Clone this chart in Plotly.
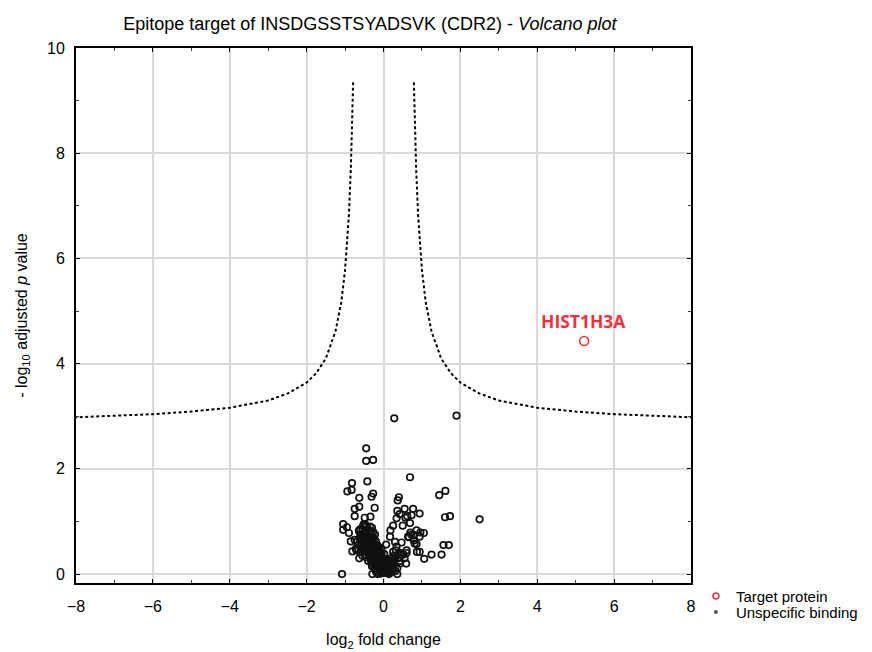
import plotly.graph_objects as go

# Unspecific binding proteins (log2 FC, -log10 adj p)
fc_x = [0.28, 1.9, -0.45, -0.45, -0.27, 0.69, -0.82, -0.42, -0.94, -0.83, -0.27, -0.31,
        -0.63, 0.40, 0.37, 1.45, 1.61, -0.63, -0.75, -0.23, 0.55, 0.77, 0.36, 0.94,
        0.42, 0.62, 0.73, -0.75, -0.49, -0.34, 0.34, 0.57, 1.60, 1.73, 2.50, -1.05,
        -0.95, -1.05, 0.25, 0.18, 0.50, 0.69, 0.86, 0.96, 1.05, 0.70, 0.79, 0.64,
        0.94, -0.75, -0.60, -0.47, -0.81, -0.63, -1.08, -0.29, 0.36, 0.36, 0.59, 0.43,
        1.06, 1.25, 1.51, 0.87, 0.94, 1.56, 1.70, 0.45, 0.60, 0.52, 0.40, 0.30,
        0.17, 0.86, 0.79,
        -0.55, -0.50, -0.45, -0.40, -0.35, -0.30, -0.60, -0.52, -0.42, -0.33, -0.27, -0.22,
        -0.58, -0.50, -0.40, -0.35, -0.28, -0.20, -0.66, -0.55, -0.46, -0.38, -0.30, -0.24,
        -0.16, -0.70, -0.60, -0.50, -0.42, -0.34, -0.26, -0.18, -0.12, -0.55, -0.45, -0.38,
        -0.30, -0.22, -0.15, -0.08, -0.40, -0.32, -0.25, -0.18, -0.10, -0.04, -0.30, -0.22,
        -0.15, -0.08, -0.02, -0.20, -0.12, -0.05, 0.02, -0.15, -0.08, 0.00, 0.06, -0.03,
        0.05, 0.10, 0.12, 0.18, 0.10, 0.15, 0.22, 0.20, 0.28, 0.25, 0.32, 0.30,
        0.08, -0.05, -0.10, -0.45, -0.62, 0.00, 0.05, -0.02, 0.14, 0.20, 0.25, 0.38,
        0.42, 0.48, 0.60, 0.55, -0.68, -0.36, -0.14, -0.06, 0.03, 0.09, -0.24, -0.48,
        -0.57, -0.33, -0.19, -0.11, 0.12, 0.26, 0.34, 0.47, 0.66, 0.72, 0.81, -0.85,
        -0.90, -0.72, -0.64, -0.53, -0.38, 0.16, 0.07, -0.01, -0.10, -0.17, 0.22, 0.31,
        -0.21, -0.13, -0.06, 0.01, -0.27, -0.19, -0.09, -0.32, -0.23, -0.14, -0.37, -0.28,
        -0.20, -0.44, -0.35, -0.26, -0.49, -0.41, -0.31, -0.53, -0.45, -0.36, -0.25, -0.16,
        -0.07, 0.03, 0.11, 0.19, -0.11, -0.03, 0.07, 0.13, -0.17, -0.09, 0.02, -0.24,
        -0.15, -0.05, -0.31, -0.39, -0.47, -0.56, -0.61, -0.51]
fc_y = [2.96, 3.01, 2.39, 2.15, 2.17, 1.84, 1.73, 1.76, 1.57, 1.60, 1.53, 1.47,
        1.45, 1.46, 1.40, 1.50, 1.58, 1.28, 1.24, 1.26, 1.24, 1.24, 1.20, 1.15,
        1.14, 1.10, 1.12, 1.10, 1.07, 1.09, 1.06, 1.07, 1.08, 1.10, 1.04, 0.95,
        0.89, 0.84, 0.92, 0.83, 0.92, 0.97, 0.83, 0.79, 0.78, 0.79, 0.74, 0.71,
        0.71, 0.65, 0.68, 0.70, 0.43, 0.30, 0.00, 0.00, 0.00, 0.11, 0.20, 0.20,
        0.29, 0.37, 0.37, 0.42, 0.42, 0.55, 0.55, 0.40, 0.40, 0.37, 0.37, 0.61,
        0.71, 0.57, 0.64,
        0.85, 0.80, 0.90, 0.85, 0.90, 0.88, 0.75, 0.72, 0.75, 0.78, 0.80, 0.75,
        0.62, 0.60, 0.63, 0.66, 0.65, 0.62, 0.55, 0.50, 0.55, 0.52, 0.55, 0.52,
        0.55, 0.45, 0.42, 0.44, 0.42, 0.45, 0.40, 0.43, 0.45, 0.35, 0.32, 0.35,
        0.30, 0.33, 0.30, 0.35, 0.25, 0.22, 0.20, 0.22, 0.20, 0.25, 0.15, 0.12,
        0.14, 0.12, 0.15, 0.06, 0.05, 0.07, 0.08, 0.00, 0.01, 0.02, 0.03, 0.10,
        0.12, 0.10, 0.05, 0.15, 0.20, 0.25, 0.22, 0.30, 0.35, 0.42, 0.45, 0.28,
        0.28, 0.40, 0.50, 0.65, 0.68, 0.30, 0.18, 0.05, 0.00, 0.08, 0.12, 0.30,
        0.25, 0.38, 0.45, 0.30, 0.62, 0.58, 0.48, 0.27, 0.22, 0.04, 0.47, 0.95,
        0.58, 0.70, 0.38, 0.09, 0.16, 0.08, 0.52, 0.60, 0.70, 0.75, 0.58, 0.62,
        0.78, 0.48, 0.82, 0.92, 0.38, 0.17, 0.56, 0.26, 0.14, 0.02, 0.18, 0.06,
        0.10, 0.09, 0.04, 0.05, 0.18, 0.17, 0.18, 0.27, 0.28, 0.26, 0.40, 0.37,
        0.38, 0.50, 0.48, 0.47, 0.60, 0.58, 0.70, 0.70, 0.82, 0.80, 0.68, 0.33,
        0.29, 0.22, 0.02, 0.03, 0.23, 0.15, 0.15, 0.21, 0.45, 0.40, 0.38, 0.57,
        0.52, 0.48, 0.62, 0.72, 0.60, 0.48, 0.85, 0.95]

# Target protein
target_name = ["HIST1H3A"]
target_x = [5.22]
target_y = [4.43]

# Significance threshold curve
thr_right_x = [0.79, 0.80, 0.85, 0.90, 1.00, 1.10, 1.25, 1.50, 1.75, 2.00, 2.50, 3.00, 4.00, 5.00, 6.00, 7.00, 8.00]
thr_right_y = [9.35, 9.05, 7.70, 6.83, 5.78, 5.16, 4.61, 4.10, 3.82, 3.64, 3.43, 3.30, 3.16, 3.09, 3.04, 3.01, 2.98]
thr_left_x = [-0.79, -0.80, -0.85, -0.90, -1.00, -1.10, -1.25, -1.50, -1.75, -2.00, -2.50, -3.00, -4.00, -5.00, -6.00, -7.00, -8.00]
thr_left_y = [9.35, 9.05, 7.70, 6.83, 5.78, 5.16, 4.61, 4.10, 3.82, 3.64, 3.43, 3.30, 3.16, 3.09, 3.04, 3.01, 2.98]

FONT = "Liberation Sans, Arial, sans-serif"
RED = "#f5303c"

fig = go.Figure()
line_style = dict(color="black", width=2, dash="3px,2.5px")
fig.add_trace(go.Scatter(x=thr_left_x, y=thr_left_y, mode="lines", line=line_style,
                         showlegend=False, hoverinfo="skip"))
fig.add_trace(go.Scatter(x=thr_right_x, y=thr_right_y, mode="lines", line=line_style,
                         showlegend=False, hoverinfo="skip"))
fig.add_trace(go.Scatter(x=fc_x, y=fc_y, mode="markers", showlegend=False,
                         marker=dict(symbol="circle-open", size=6.5, color="#111111",
                                     line=dict(width=1.7, color="#111111"))))
fig.add_trace(go.Scatter(x=target_x, y=target_y, mode="markers", showlegend=False,
                         marker=dict(symbol="circle-open", size=9, color=RED,
                                     line=dict(width=1.6, color=RED))))
fig.add_annotation(x=target_x[0], y=target_y[0], text="<b>" + target_name[0] + "</b>",
                   showarrow=False, yshift=20, xshift=-1,
                   font=dict(family="Open Sans, sans-serif", size=17.5, color=RED))
# legend entries (two legends to reproduce the tight row spacing)
fig.add_trace(go.Scatter(x=[None], y=[None], mode="markers", name="Target protein", legend="legend",
                         marker=dict(symbol="circle-open", size=6, color=RED, line=dict(width=1.5, color=RED))))
fig.add_trace(go.Scatter(x=[None], y=[None], mode="markers", name="Unspecific binding", legend="legend2",
                         marker=dict(symbol="circle", size=4, color="#555555")))

axis_common = dict(showline=True, linecolor="black", linewidth=1.8, mirror="ticks",
                   ticks="inside", ticklen=4, tickcolor="black", tickwidth=1,
                   showgrid=True, gridcolor="#d9d9d9", gridwidth=1.5, zeroline=False,
                   tickfont=dict(family=FONT, size=16, color="black"),
                   minor=dict(ticks="inside", ticklen=3, dtick=1, tickcolor="#444444", showgrid=False))

fig.update_xaxes(range=[-8, 8], tick0=-8, dtick=2, ticklabelstandoff=8,
                 title=dict(text="log<sub>2</sub> fold change", font=dict(family=FONT, size=16, color="black"), standoff=20),
                 **axis_common)
fig.update_yaxes(range=[-0.17, 10], tick0=0, dtick=2, ticklabelstandoff=6,
                 title=dict(text="- log<sub>10</sub> adjusted <i>p</i> value", font=dict(family=FONT, size=16, color="black"), standoff=16),
                 **axis_common)

legend_common = dict(x=1.008, xanchor="left", yanchor="top",
                     font=dict(family=FONT, size=15, color="black"),
                     bgcolor="rgba(0,0,0,0)", itemwidth=30, borderwidth=0)

fig.update_layout(
    width=872, height=652,
    margin=dict(l=68, r=189, t=40, b=77),
    paper_bgcolor="white", plot_bgcolor="white",
    title=dict(text="Epitope target of INSDGSSTSYADSVK (CDR2) - <i>Volcano plot</i>",
               x=0.415, xanchor="center", y=0.985, yanchor="top",
               font=dict(family=FONT, size=18, color="black")),
    legend=dict(y=0.006, **legend_common),
    legend2=dict(y=-0.024, **legend_common),
    showlegend=True,
)

fig.write_html("out.html")
